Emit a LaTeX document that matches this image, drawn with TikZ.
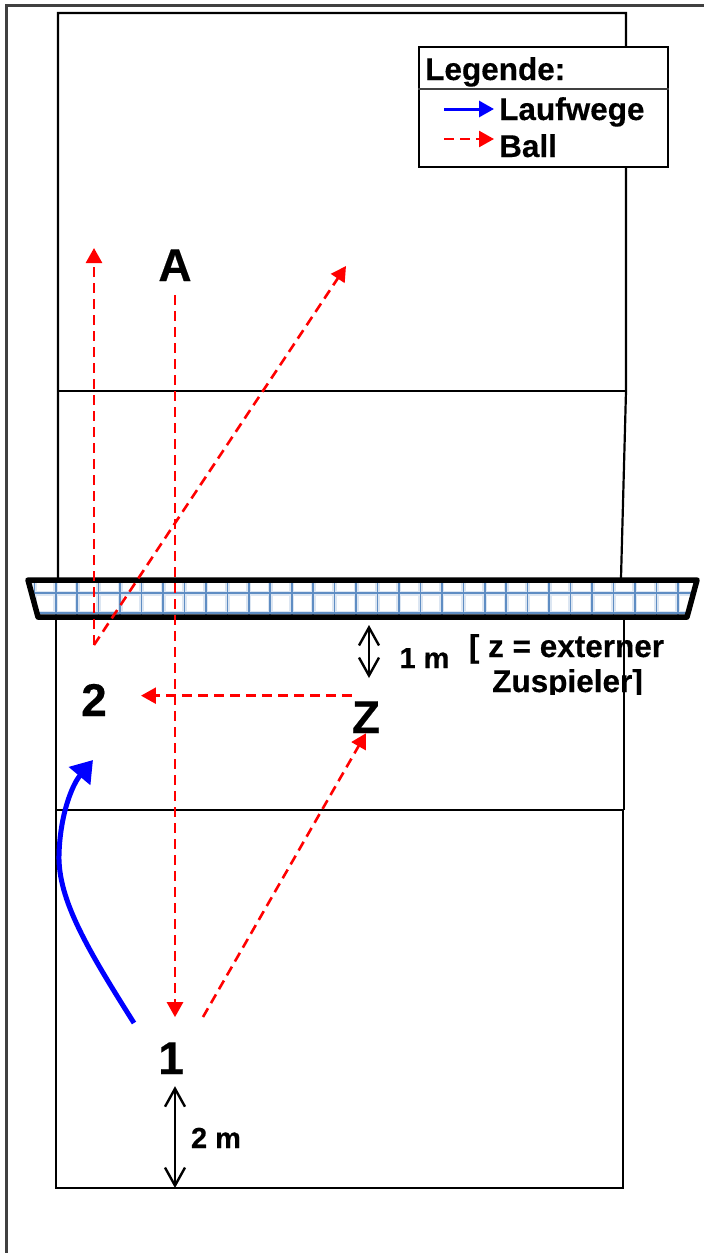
\documentclass[tikz,border=0pt]{standalone}
\usepackage{fontspec}
\setmainfont[BoldFeatures={FakeBold=0.35}]{Liberation Sans}
\usetikzlibrary{arrows.meta}
\definecolor{netblue}{HTML}{5F8DC3}
\definecolor{netglow}{HTML}{DCE6F2}
\tikzset{
    ball/.style={red, line width=2.6pt, dash pattern=on 10pt off 6pt, -{Triangle[length=15pt,width=16pt]}},
    run/.style={blue, -{Triangle[length=21pt,width=27pt]}, line width=5pt},
    measure/.style={black, line width=2.4pt, {Straight Barb[length=18pt,width=20pt]}-{Straight Barb[length=18pt,width=20pt]}},
    court/.style={black, line width=1.8pt},
    player/.style={inner sep=0pt, anchor=base, font=\fontsize{46}{46}\selectfont\bfseries},
    remark/.style={inner sep=0pt, anchor=base, font=\fontsize{29}{29}\selectfont\bfseries},
    legendtext/.style={inner sep=0pt, anchor=base west, font=\fontsize{31.5}{32}\selectfont\bfseries}
}
\begin{document}
\begin{tikzpicture}[x=1pt, y=-1pt]
        \useasboundingbox (0,0) rectangle (704,1253);

        % Rahmen
        \draw[line width=2.2pt, black!75] (704,5.5) -- (6.5,5.5) -- (6.5,1253);

        % Hinweis externer Zuspieler
        \begin{scope}
            \clip (440,630) rectangle (704,694);
            \node[remark, font=\fontsize{31.5}{32}\selectfont\bfseries] (externer) at (566.5,657) {[ z = externer};
            \node[remark, font=\fontsize{31.5}{32}\selectfont\bfseries] (zuspieler) at (567.5,692) {Zuspieler]};
        \end{scope}

        % Spielfeld
        \draw[court, line width=2.2pt] (58,578) -- (58,13) -- (626,13) -- (626,391) -- (621,578);
        \draw[court] (58,391) -- (626,391);
        \draw[court] (624,620) -- (624,810);
        \draw[court] (56,810) -- (623,810);
        \draw[court, line width=2.2pt] (56,620) -- (56,1188) -- (623,1188) -- (623,810);

        % Netz
        \fill[white] (28,580) -- (697,580) -- (687,617) -- (38,617) -- cycle;
        \begin{scope}
            \clip (28,580) -- (697,580) -- (687,617) -- (38,617) -- cycle;
            \foreach \col in {0,...,30} {
                \draw[netglow, line width=5pt] (34.3+21.45*\col,580) -- (34.3+21.45*\col,617);
            }
            \draw[netglow, line width=5pt] (28,593) -- (697,593);
            \draw[netglow, line width=5pt] (28,613) -- (697,613);
            \foreach \col in {0,...,30} {
                \draw[netblue, line width=1.6pt] (34.3+21.45*\col,580) -- (34.3+21.45*\col,617);
            }
            \draw[netblue, line width=1.4pt] (28,593) -- (697,593);
            \draw[netblue, line width=1.4pt] (28,613) -- (697,613);
        \end{scope}
        \draw[black, line width=5.5pt, line join=round] (28,580) -- (697,580) -- (687,617) -- (38,617) -- cycle;

        % Spieler
        \node[player] (playerA) at (175,281) {A};
        \node[player] (playerone) at (171,1074) {1};
        \node[player] (playertwo) at (94,716) {2};
        \node[player] (playerz) at (366,733) {Z};

        % Ballwege
        \coordinate (turn) at (94,645);
        \coordinate (leftend) at (94,248);
        \coordinate (rightend) at (346,266);
        \coordinate (passstart) at (203,1017);
        \draw[ball] (turn) -- (leftend);
        \draw[ball] (turn) -- (rightend);
        \draw[ball, shorten <=14pt, shorten >=25pt] (playerA.south) -- (playerA.south |- playerone.north);
        \draw[ball] (passstart) -- (playerz.south);
        \draw[ball, shorten >=34pt] ([yshift=5.5pt]playerz.north west) -- ([yshift=5.5pt]playerz.north west -| playertwo.east);

        % Laufweg
        \coordinate (runstart) at (134,1023);
        \coordinate (runend) at (93,760);
        \draw[run] (runstart) .. controls (88,950) and (58,900) .. (59,855) .. controls (60,815) and (72,785) .. (runend);

        % Abstaende
        \coordinate (netgap) at (369,625);
        \coordinate (gapend) at (369,678);
        \coordinate (baseline) at (175,1188);
        \draw[measure] (netgap) -- (gapend);
        \draw[measure] (playerone.south -| baseline) ++(0,12) -- (baseline);
        \node[remark] (onem) at (424.5,668) {1 m};
        \node[remark] (twom) at (216,1148) {2 m};

        % Legende
        \node[draw, fill=white, line width=2.4pt, minimum width=249pt, minimum height=120pt, inner sep=0pt] (legendbox) at (543.5,107) {};
        \draw[black!75, line width=1.4pt] (legendbox.west |- 0,89) -- (legendbox.east |- 0,89);
        \node[legendtext] (legendtitle) at (425,80) {Legende:};
        \node[legendtext] (keyrun) at (499,120) {Laufwege};
        \node[legendtext] (keyball) at (499,157) {Ball};
        \coordinate (runfrom) at (444,109);
        \coordinate (runto) at (494,109);
        \coordinate (ballfrom) at (444,139);
        \coordinate (ballto) at (494,139);
        \draw[blue, line width=3pt, -{Triangle[length=15pt,width=16pt]}] (runfrom) -- (runto);
        \draw[ball] (ballfrom) -- (ballto);
    \end{tikzpicture}
\end{document}
